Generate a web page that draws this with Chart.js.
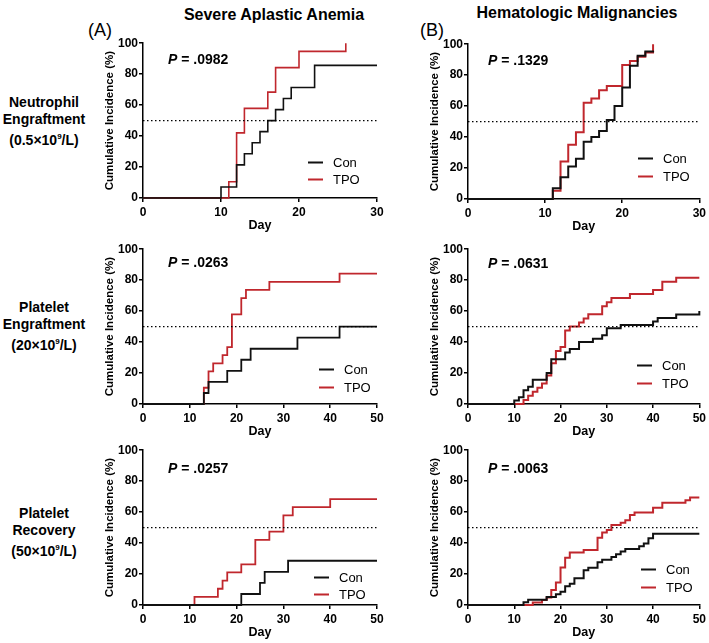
<!DOCTYPE html>
<html>
<head>
<meta charset="utf-8">
<script src="https://cdn.jsdelivr.net/npm/chart.js@4.4.1/dist/chart.umd.min.js"></script>
<style>
    body { margin: 0; background: #fff; width: 709px; height: 643px; position: relative; overflow: hidden;
           font-family: "Liberation Sans", Arial, sans-serif; color: #000; }
    canvas { position: absolute; }
    .t { position: absolute; white-space: nowrap; }
    .title { font-weight: bold; font-size: 16px; transform: translate(-50%, -50%); }
    .tag { font-size: 18px; transform: translate(-50%, -50%); }
    .row { font-weight: bold; font-size: 14px; line-height: 17px; text-align: center; width: 88px; left: 0; }
    .pval { font-weight: bold; font-size: 14px; transform: translateY(-50%); }
    .leg { font-size: 13px; transform: translateY(-50%); }
    .leg span { display: inline-block; width: 15px; height: 0; border-top: 2px solid; vertical-align: middle; margin-right: 10px; position: relative; top: -1px; }
    sup { font-size: 8px; }
</style>
</head>
<body>

<div class="t tag" style="left:100px; top:30px;">(A)</div>
<div class="t title" style="left:274px; top:15px;">Severe Aplastic Anemia</div>
<div class="t tag" style="left:432px; top:30px;">(B)</div>
<div class="t title" style="left:577px; top:13px;">Hematologic Malignancies</div>

<div class="t row" style="top:94px;">Neutrophil<br>Engraftment<br>(0.5×10<sup>9</sup>/L)</div>
<div class="t row" style="top:299px;">Platelet<br>Engraftment<br>(20×10<sup>9</sup>/L)</div>
<div class="t row" style="top:505px;">Platelet<br>Recovery<br>(50×10<sup>9</sup>/L)</div>

<canvas id="a1" width="300" height="199" style="left:90px; top:35px;"></canvas>
<canvas id="b1" width="294" height="199" style="left:415px; top:36px;"></canvas>
<canvas id="a2" width="300" height="199" style="left:90px; top:241px;"></canvas>
<canvas id="b2" width="294" height="199" style="left:415px; top:241px;"></canvas>
<canvas id="a3" width="300" height="199" style="left:90px; top:442px;"></canvas>
<canvas id="b3" width="294" height="199" style="left:415px; top:442px;"></canvas>

<div class="t pval" style="left:168px; top:59px;"><i>P</i> = .0982</div>
<div class="t pval" style="left:488px; top:60px;"><i>P</i> = .1329</div>
<div class="t pval" style="left:168px; top:262px;"><i>P</i> = .0263</div>
<div class="t pval" style="left:488px; top:263px;"><i>P</i> = .0631</div>
<div class="t pval" style="left:168px; top:468px;"><i>P</i> = .0257</div>
<div class="t pval" style="left:488px; top:468px;"><i>P</i> = .0063</div>

<div class="t leg" style="left:308px; top:162px;"><span style="border-color:#111"></span>Con</div>
<div class="t leg" style="left:308px; top:179px;"><span style="border-color:#c0272d"></span>TPO</div>
<div class="t leg" style="left:638px; top:158px;"><span style="border-color:#111"></span>Con</div>
<div class="t leg" style="left:638px; top:176px;"><span style="border-color:#c0272d"></span>TPO</div>
<div class="t leg" style="left:319px; top:369px;"><span style="border-color:#111"></span>Con</div>
<div class="t leg" style="left:319px; top:387px;"><span style="border-color:#c0272d"></span>TPO</div>
<div class="t leg" style="left:637px; top:365px;"><span style="border-color:#111"></span>Con</div>
<div class="t leg" style="left:637px; top:383px;"><span style="border-color:#c0272d"></span>TPO</div>
<div class="t leg" style="left:314px; top:577px;"><span style="border-color:#111"></span>Con</div>
<div class="t leg" style="left:314px; top:594px;"><span style="border-color:#c0272d"></span>TPO</div>
<div class="t leg" style="left:641px; top:569px;"><span style="border-color:#111"></span>Con</div>
<div class="t leg" style="left:641px; top:587px;"><span style="border-color:#c0272d"></span>TPO</div>

<script>
// Neutrophil engraftment - SAA
const saaNeutConDays = [0, 10, 12, 13, 14, 15, 16, 17, 18, 19, 22, 30];
const saaNeutConPct  = [0, 7.1, 21.4, 28.6, 35.7, 42.9, 50, 57.1, 64.3, 71.4, 85.7, 85.7];
const saaNeutTpoDays = [0, 11, 12, 13, 16, 17, 20, 26];
const saaNeutTpoPct  = [0, 10.5, 42.1, 57.9, 68.4, 84.2, 94.7, 100];

// Neutrophil engraftment - hematologic malignancies
const hmNeutConDays = [0, 11, 12, 13, 14, 15, 16, 17, 18, 19, 20, 21, 22, 23, 24];
const hmNeutConPct  = [0, 7, 14, 21, 26, 37, 40, 44, 51, 60, 72, 86, 92.6, 95.3, 96];
const hmNeutTpoDays = [0, 11, 12, 13, 14, 15, 16, 17, 18, 20, 21, 22, 23, 24];
const hmNeutTpoPct  = [0, 5.4, 24.3, 35.1, 43.2, 62.2, 64.9, 70.3, 73, 86.5, 89.2, 91.9, 94.6, 100];

// Platelet engraftment (20) - SAA
const saaPlt20ConDays = [0, 13, 14, 18, 21, 23, 33, 42, 50];
const saaPlt20ConPct  = [0, 7.1, 14.3, 21.4, 28.6, 35.7, 42.9, 50, 50];
const saaPlt20TpoDays = [0, 13, 14, 15, 17, 18, 19, 21, 22, 27, 42, 50];
const saaPlt20TpoPct  = [0, 10.5, 21.1, 26.3, 31.6, 36.8, 57.9, 68.4, 73.7, 78.9, 84.2, 84.2];

// Platelet engraftment (20) - hematologic malignancies
const hmPlt20ConDays = [0, 10, 11, 12, 13, 14, 17, 18, 21, 22, 24, 27, 29, 30, 33, 40, 41, 45, 50];
const hmPlt20ConPct  = [0, 2.2, 4.4, 8.9, 11.1, 15.6, 20, 28.9, 33.3, 35.6, 40, 42.2, 44.4, 48.9, 51.1, 53.3, 55.6, 57.8, 60];
const hmPlt20TpoDays = [0, 12, 13, 14, 15, 16, 17, 18, 19, 20, 21, 22, 24, 25, 26, 29, 30, 31, 35, 40, 42, 45, 50];
const hmPlt20TpoPct  = [0, 2.6, 5.3, 7.9, 10.5, 13.2, 18.4, 26.3, 34.2, 36.8, 47.4, 50, 52.6, 55.3, 57.9, 63.2, 65.8, 68.4, 71.1, 73.7, 78.9, 81.6, 81.6];

// Platelet recovery (50) - SAA
const saaPlt50ConDays = [0, 21, 25, 26, 31, 50];
const saaPlt50ConPct  = [0, 7.1, 14.3, 21.4, 28.6, 28.6];
const saaPlt50TpoDays = [0, 11, 16, 17, 18, 21, 24, 27, 30, 32, 40, 50];
const saaPlt50TpoPct  = [0, 5.3, 10.5, 15.8, 21.1, 26.3, 42.1, 47.4, 57.9, 63.2, 68.4, 68.4];

// Platelet recovery (50) - hematologic malignancies
const hmPlt50ConDays = [0, 12, 13, 17, 19, 20, 21, 22, 23, 25, 26, 28, 29, 31, 32, 33, 34, 37, 38, 39, 40, 50];
const hmPlt50ConPct  = [0, 1.7, 3.4, 5.2, 6.9, 8.6, 12.1, 13.8, 17.2, 22.4, 24.1, 27.6, 29.3, 31, 32.8, 34.5, 36.2, 37.9, 39.7, 43.1, 46, 46];
const hmPlt50TpoDays = [0, 14, 16, 17, 18, 19, 20, 21, 22, 25, 28, 29, 30, 31, 33, 34, 35, 36, 40, 42, 47, 48, 50];
const hmPlt50TpoPct  = [0, 1.6, 3.2, 4.8, 9.7, 14.5, 24.2, 30.6, 33.9, 35.5, 43.5, 46.8, 48.4, 51.6, 53.2, 54.8, 58.1, 59.7, 62.9, 66.1, 67.7, 69.4, 69.4];

const yTicks = [0, 20, 40, 60, 80, 100];
const medianLevel = 50;

const RED = '#c0272d';
const BLACK = '#111111';

function toPoints(days, pct) {
    return days.map(function(d, i) { return { x: d, y: pct[i] }; });
}

function makePanel(canvasId, xMax, padRight, lineW, con, tpo) {
    const ctx = document.getElementById(canvasId).getContext('2d');
    const axisFont = { family: '"Liberation Sans", Arial, sans-serif', weight: 'bold', size: 12 };
    return new Chart(ctx, {
        type: 'line',
        data: {
            datasets: [
                {
                    data: [{ x: 0, y: medianLevel }, { x: xMax, y: medianLevel }],
                    borderColor: '#000', borderWidth: 1.3, borderDash: [1.5, 2.5],
                    pointRadius: 0, fill: false
                },
                {
                    label: 'Con', data: con, borderColor: BLACK, borderWidth: lineW,
                    stepped: true, pointRadius: 0, fill: false, clip: 6
                },
                {
                    label: 'TPO', data: tpo, borderColor: RED, borderWidth: lineW,
                    stepped: true, pointRadius: 0, fill: false, clip: 6
                }
            ]
        },
        options: {
            responsive: false,
            animation: false,
            devicePixelRatio: 1,
            layout: { padding: { top: 8, right: padRight, bottom: 0, left: 0 } },
            plugins: { legend: { display: false }, tooltip: { enabled: false } },
            scales: {
                x: {
                    type: 'linear', min: 0, max: xMax,
                    afterFit: function(scale) { scale.height = 36; },
                    grid: { drawOnChartArea: false, drawTicks: true, tickLength: 4, color: '#000', lineWidth: 1.5 },
                    border: { color: '#000', width: 1.5 },
                    ticks: { stepSize: 10, color: '#000', font: axisFont, padding: 3, maxRotation: 0 },
                    title: { display: true, text: 'Day', color: '#000', font: { family: axisFont.family, weight: 'bold', size: 12.5 }, padding: { top: 0, bottom: 1 } }
                },
                y: {
                    type: 'linear', min: 0, max: 100,
                    afterFit: function(scale) { scale.width = 53; },
                    afterBuildTicks: function(scale) { scale.ticks = yTicks.map(function(v) { return { value: v }; }); },
                    grid: { drawOnChartArea: false, drawTicks: true, tickLength: 4, color: '#000', lineWidth: 1.5 },
                    border: { color: '#000', width: 1.5 },
                    ticks: { color: '#000', font: axisFont, padding: 1 },
                    title: { display: true, text: 'Cumulative Incidence (%)', color: '#000', font: { family: axisFont.family, weight: 'bold', size: 11.5 }, padding: { top: 13, bottom: 0 } }
                }
            }
        }
    });
}

makePanel('a1', 30, 13, 1.6, toPoints(saaNeutConDays, saaNeutConPct), toPoints(saaNeutTpoDays, saaNeutTpoPct));
makePanel('b1', 30, 9, 2, toPoints(hmNeutConDays, hmNeutConPct), toPoints(hmNeutTpoDays, hmNeutTpoPct));
makePanel('a2', 50, 13, 1.8, toPoints(saaPlt20ConDays, saaPlt20ConPct), toPoints(saaPlt20TpoDays, saaPlt20TpoPct));
makePanel('b2', 50, 9, 2, toPoints(hmPlt20ConDays, hmPlt20ConPct), toPoints(hmPlt20TpoDays, hmPlt20TpoPct));
makePanel('a3', 50, 13, 1.8, toPoints(saaPlt50ConDays, saaPlt50ConPct), toPoints(saaPlt50TpoDays, saaPlt50TpoPct));
makePanel('b3', 50, 9, 2, toPoints(hmPlt50ConDays, hmPlt50ConPct), toPoints(hmPlt50TpoDays, hmPlt50TpoPct));
</script>
</body>
</html>
